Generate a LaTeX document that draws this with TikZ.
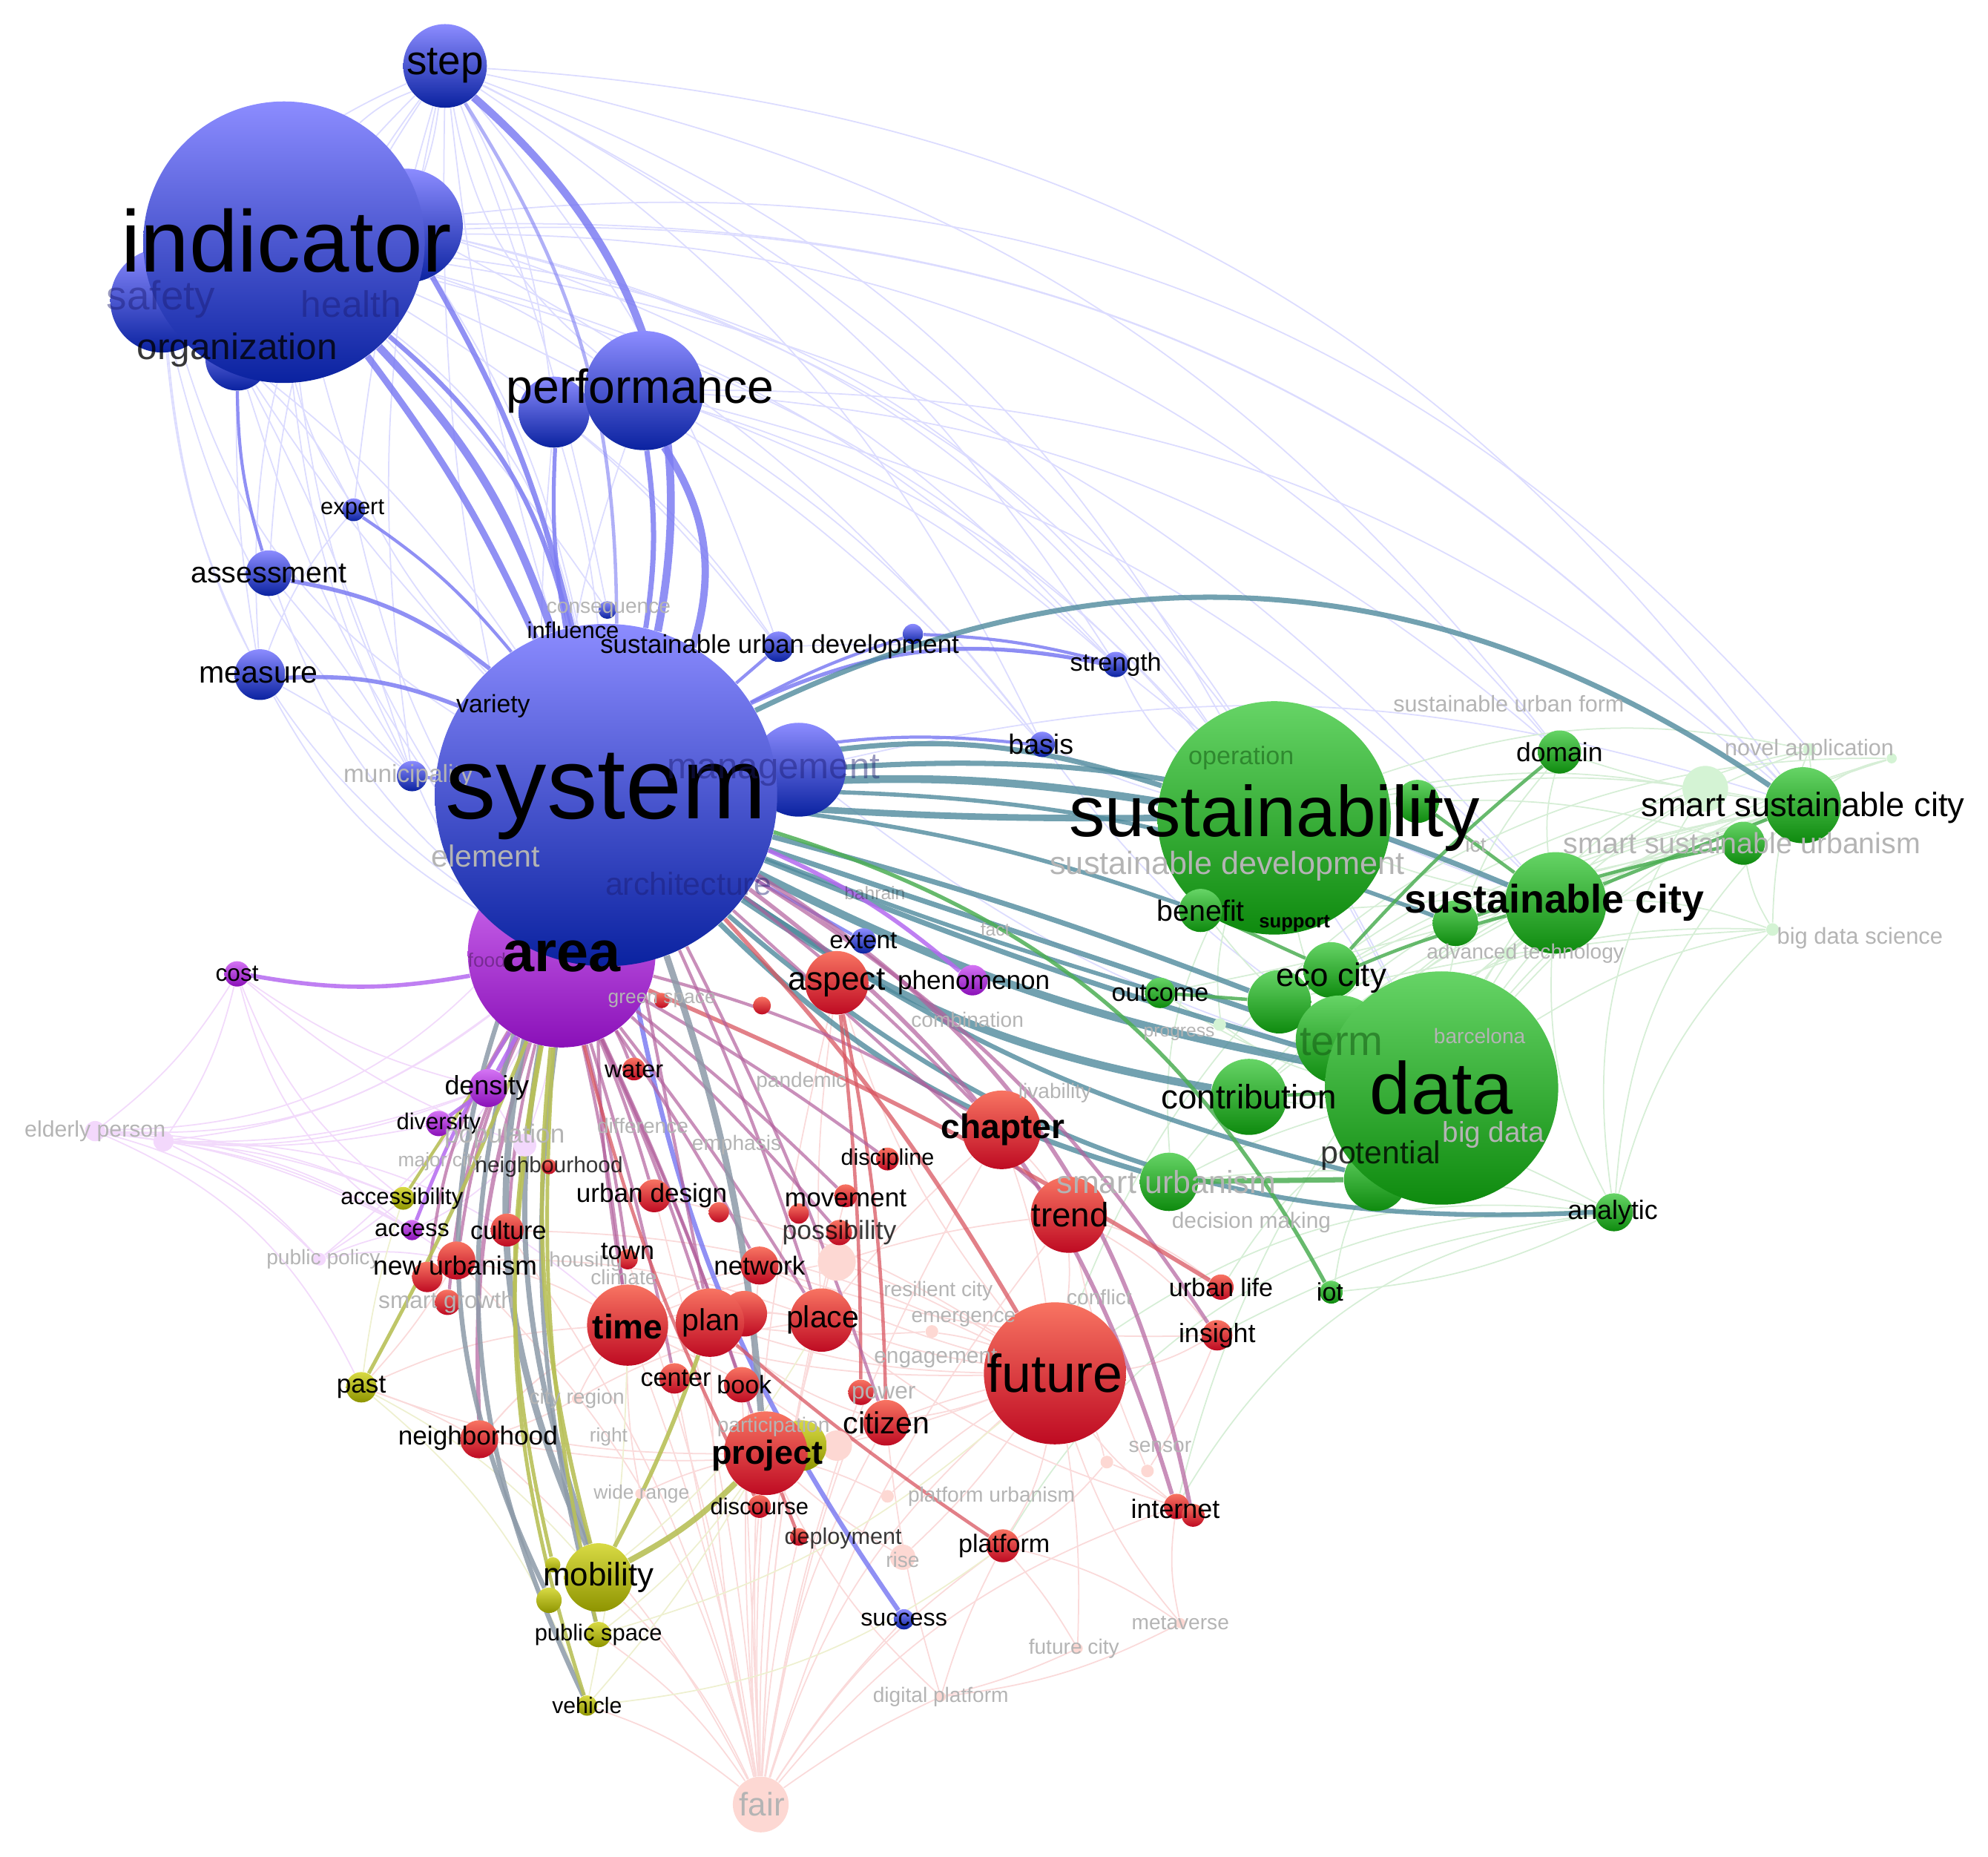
\documentclass[tikz,border=0pt]{standalone}
\usepackage{fontspec}
\setmainfont{Liberation Sans}
\pgfdeclarelayer{bg}\pgfdeclarelayer{fg}\pgfsetlayers{bg,main,fg}
\definecolor{bT}{HTML}{8C8CFF}\definecolor{bB}{HTML}{0A22A0}
\definecolor{pT}{HTML}{D474F4}\definecolor{pB}{HTML}{8A10B8}
\definecolor{gT}{HTML}{66D466}\definecolor{gB}{HTML}{0E8A0E}
\definecolor{rT}{HTML}{F87462}\definecolor{rB}{HTML}{BE0A22}
\definecolor{yT}{HTML}{D8DA44}\definecolor{yB}{HTML}{8E9400}
\definecolor{eB}{HTML}{7C7CF2}\definecolor{eT}{HTML}{4F8A9C}
\definecolor{eG}{HTML}{4CAE54}\definecolor{eR}{HTML}{D85560}
\definecolor{eM}{HTML}{B2609C}\definecolor{eY}{HTML}{B8C058}
\definecolor{eS}{HTML}{8C9AA8}\definecolor{eP}{HTML}{B468F0}
\definecolor{fB}{HTML}{DCDCFF}\definecolor{fG}{HTML}{D6EED6}
\definecolor{fR}{HTML}{FADADA}\definecolor{fP}{HTML}{F2DAFB}
\definecolor{fY}{HTML}{EEF0D0}
\definecolor{lg}{HTML}{B4B4B4}
\definecolor{dB}{HTML}{1A1A70}\definecolor{dG}{HTML}{145A14}
\newcommand\fsz[1]{\fontsize{#1pt}{#1pt}\selectfont}
\newcommand\bub[5]{\node[#1, minimum size=#5*0.034184cm] (#2) at (#3,-#4) {};}
\newcommand\lab[6]{\node[#1, font=\fsz{#6}] (#2) at (#3,-#4) {#5};}
\tikzset{
 bb/.style={circle, inner sep=0pt, top color=bT, bottom color=bB},
 pb/.style={circle, inner sep=0pt, top color=pT, bottom color=pB},
 gb/.style={circle, inner sep=0pt, top color=gT, bottom color=gB},
 rb/.style={circle, inner sep=0pt, top color=rT, bottom color=rB},
 yb/.style={circle, inner sep=0pt, top color=yT, bottom color=yB},
 fr/.style={circle, inner sep=0pt, fill=rT!28},
 fgc/.style={circle, inner sep=0pt, fill=gT!28},
 fpc/.style={circle, inner sep=0pt, fill=pT!28},
 lk/.style={inner sep=0pt, text=black},
 lo/.style={inner sep=0pt, text=black, text opacity=.78},
 lf/.style={inner sep=0pt, text=lg},
 ld/.style={inner sep=0pt, text=black, text opacity=.3},
 ldb/.style={inner sep=0pt, text=dB, text opacity=.45},
 ldg/.style={inner sep=0pt, text=dG, text opacity=.55},
 eb/.style={draw=eB, line width=#1, draw opacity=.85}, eb/.default=1.4pt,
 et/.style={draw=eT, line width=#1, draw opacity=.8}, et/.default=2pt,
 eg/.style={draw=eG, line width=#1, draw opacity=.85}, eg/.default=1.3pt,
 er/.style={draw=eR, line width=#1, draw opacity=.75}, er/.default=1.3pt,
 em/.style={draw=eM, line width=#1, draw opacity=.7}, em/.default=1.2pt,
 ey/.style={draw=eY, line width=#1, draw opacity=.9}, ey/.default=1.5pt,
 es/.style={draw=eS, line width=#1, draw opacity=.85}, es/.default=2pt,
 ep/.style={draw=eP, line width=#1, draw opacity=.85}, ep/.default=1.5pt,
 fbl/.style={draw=fB, line width=.5pt},
 fgr/.style={draw=fG, line width=.5pt},
 frd/.style={draw=fR, line width=.5pt},
 fpu/.style={draw=fP, line width=.5pt},
 fyl/.style={draw=fY, line width=.5pt},
}
\begin{document}
\begin{tikzpicture}[x=0.017092cm, y=0.017092cm]
\useasboundingbox (0,0) rectangle (1568,-1464);
% ---------- faded bubbles ----------
\bub{fr}{fair}{600}{1423}{22}
\bub{fr}{metav}{931}{1280}{4}
\bub{fr}{fcity}{850}{1300}{4}
\bub{fr}{dplat}{742}{1338}{4}
\bub{fr}{sensor}{873}{1153}{5}
\bub{fr}{sensor2}{905}{1160}{5}
\bub{fr}{pfu}{700}{1180}{5}
\bub{fr}{rise}{712}{1228}{10}
\bub{fr}{partic}{660}{1140}{12}
\bub{fr}{paleA}{660}{995}{15}
\bub{fr}{engag}{735}{1050}{5}
\bub{fr}{cityreg}{455}{1103}{4}
\bub{fr}{widerg}{505}{1178}{4}
\bub{fpc}{elderly}{75}{892}{8}
\bub{fpc}{elderly2}{129}{900}{8}
\bub{fpc}{pubpol}{252}{993}{5}
\bub{fpc}{popl}{414}{903}{9}
\bub{fgc}{novbig}{1345}{622}{18}
\bub{fgc}{novel}{1427}{591}{5}
\bub{fgc}{bds}{1398}{733}{5}
\bub{fgc}{bds2}{1492}{598}{4}
\bub{fgc}{progress}{962}{808}{5}
\bub{fgc}{adtech}{1190}{752}{5}
% ---------- blue ----------
\bub{bb}{step}{351}{52}{33}
\bub{bb}{ind2}{320}{178}{45}
\bub{bb}{safety}{128}{237}{41}
\bub{bb}{orgb}{187}{283}{25}
\bub{bb}{indicator}{224}{191}{111}
\bub{bb}{perf2}{437}{325}{28}
\bub{bb}{performance}{508}{308}{47}
\bub{bb}{expert}{279}{402}{9}
\bub{bb}{assessment}{212}{452}{18}
\bub{bb}{measure}{205}{532}{20}
\bub{bb}{municipality}{325}{612}{12}
\bub{bb}{consequence}{479}{481}{7}
\bub{bb}{sud}{614}{510}{12}
\bub{bb}{dot1}{720}{500}{8}
\bub{bb}{strength}{880}{524}{10}
\bub{bb}{basis}{822}{587}{10}
\bub{bb}{management}{630}{607}{37}
% ---------- purple ----------
\bub{pb}{area}{443}{752}{74}
\bub{bb}{system}{478}{627}{135}
\bub{bb}{extent}{681}{742}{10}
\bub{bb}{success}{713}{1277}{8}
\bub{pb}{cost}{187}{768}{10}
\bub{pb}{density}{385}{858}{15}
\bub{pb}{diversity}{346}{886}{10}
\bub{pb}{access}{325}{970}{8}
\bub{pb}{phenom}{767}{773}{12}
% ---------- green ----------
\bub{gb}{sustS}{1118}{632}{17}
\bub{gb}{sustainability}{1005}{645}{92}
\bub{gb}{domain}{1230}{593}{17}
\bub{gb}{ssc}{1422}{635}{30}
\bub{gb}{ssu}{1375}{665}{17}
\bub{gb}{sc2}{1148}{728}{18}
\bub{gb}{sustcity}{1227}{712}{40}
\bub{gb}{benefit}{947}{718}{17}
\bub{gb}{outcome}{915}{783}{12}
\bub{gb}{eco2}{1050}{765}{22}
\bub{gb}{eco}{1009}{790}{25}
\bub{gb}{term}{1057}{820}{35}
\bub{gb}{potcirc}{1085}{930}{25}
\bub{gb}{data}{1137}{858}{92}
\bub{gb}{contribution}{985}{865}{30}
\bub{gb}{smurb}{922}{932}{23}
\bub{gb}{analytic}{1273}{956}{15}
\bub{gb}{iot}{1050}{1019}{9}
% ---------- red ----------
\bub{rb}{aspect}{660}{775}{25}
\bub{rb}{gsdot}{522}{789}{6}
\bub{rb}{rdot1}{601}{793}{7}
\bub{rb}{water}{500}{843}{9}
\bub{rb}{chapter}{790}{891}{31}
\bub{rb}{discipline}{700}{914}{9}
\bub{rb}{nbhd}{433}{920}{6}
\bub{rb}{udesign}{516}{943}{13}
\bub{rb}{rdot2}{567}{956}{8}
\bub{rb}{movement}{667}{943}{9}
\bub{rb}{rdot3}{630}{957}{8}
\bub{rb}{possib}{662}{972}{10}
\bub{rb}{trend}{843}{958}{30}
\bub{rb}{culture}{400}{970}{13}
\bub{rb}{town}{495}{993}{8}
\bub{rb}{network}{599}{998}{15}
\bub{rb}{nu1}{337}{1007}{12}
\bub{rb}{newurb}{360}{994}{15}
\bub{rb}{smgrowth}{353}{1027}{10}
\bub{rb}{urbanlife}{963}{1015}{10}
\bub{rb}{insight}{960}{1053}{12}
\bub{rb}{time}{495}{1045}{32}
\bub{rb}{plan2}{587}{1036}{18}
\bub{rb}{plan}{560}{1043}{27}
\bub{rb}{place}{648}{1041}{25}
\bub{rb}{future}{832}{1083}{56}
\bub{rb}{center}{532}{1087}{12}
\bub{rb}{book}{585}{1092}{14}
\bub{rb}{power}{679}{1098}{10}
\bub{rb}{neighborhood}{378}{1135}{15}
\bub{rb}{citizen}{699}{1122}{18}
\bub{yb}{projy}{632}{1140}{20}
\bub{rb}{project}{604}{1146}{33}
\bub{rb}{discourse}{599}{1188}{9}
\bub{rb}{internet}{928}{1188}{10}
\bub{rb}{internet2}{941}{1195}{9}
\bub{rb}{deploy}{630}{1212}{7}
\bub{rb}{platform}{791}{1219}{13}
% ---------- yellow ----------
\bub{yb}{accessibility}{318}{945}{9}
\bub{yb}{past}{285}{1094}{12}
\bub{yb}{mob2}{436}{1234}{6}
\bub{yb}{mob3}{433}{1262}{10}
\bub{yb}{mobility}{472}{1244}{27}
\bub{yb}{pubspace}{472}{1289}{10}
\bub{yb}{vehicle}{463}{1345}{8}

\begin{pgfonlayer}{bg}
% ---------- faint links ----------
\foreach \a/\b/\c in {step/indicator/-10,step/ind2/5,step/safety/-15,step/orgb/-10,step/assessment/-15,step/measure/-20,step/municipality/-10,step/expert/-5,step/perf2/10,step/sud/10,step/strength/15,step/basis/15,step/sustainability/20,step/ssc/25,step/domain/20,step/system/-5,step/consequence/5,step/area/-8,step/performance/-20,step/data/18,
indicator/sustainability/25,indicator/ssc/25,indicator/domain/25,indicator/sustcity/20,indicator/strength/15,indicator/basis/12,indicator/performance/10,indicator/expert/-10,indicator/municipality/-10,indicator/sud/10,indicator/system/-14,indicator/system/20,indicator/area/-15,indicator/consequence/5,indicator/data/22,indicator/novel/28,
safety/system/-20,safety/measure/-10,safety/area/-25,safety/municipality/-15,safety/system/10,orgb/system/-5,orgb/measure/-5,orgb/area/-10,orgb/municipality/5,orgb/expert/10,
ind2/sustainability/20,ind2/system/10,ind2/strength/15,ind2/data/25,ind2/basis/12,ind2/ssc/24,
performance/sustainability/15,performance/ssc/20,performance/strength/10,performance/basis/10,performance/area/-10,performance/domain/18,performance/sustcity/15,perf2/system/5,perf2/area/-5,perf2/sud/8,
assessment/area/-15,measure/area/-15,assessment/municipality/5,measure/municipality/5,municipality/area/-10,expert/area/-10,expert/measure/-10,
sud/strength/5,strength/sustainability/-10,strength/sustcity/-10,basis/sustainability/-5,basis/data/-10,management/ssc/15,management/data/-10}
 \draw[fbl] (\a) to[bend left=\c] (\b);
\foreach \a/\b/\c in {ssc/data/-20,ssc/sustainability/-10,ssc/sustcity/-5,ssc/analytic/-20,ssc/eco/-10,ssc/term/-15,ssc/smurb/-20,novel/data/-25,novel/sustcity/-10,novel/ssc/5,novel/sustainability/-15,novel/bds/-10,bds/data/-10,bds/sustcity/-10,bds/ssu/10,bds/analytic/-15,ssu/data/-15,ssu/sustainability/-10,ssu/term/-15,ssu/contribution/-15,domain/data/-15,domain/sustcity/-10,domain/ssc/-5,sustainability/data/-20,sustainability/sustcity/-5,sustcity/data/-10,sustcity/analytic/-15,analytic/contribution/-10,analytic/internet/-25,analytic/platform/-30,analytic/future/-20,analytic/smurb/-10,data/iot/-10,data/outcome/10,data/benefit/10,data/smurb/-5,sustainability/smurb/-15,ssc/benefit/10,ssc/outcome/5,ssc/contribution/-10,bds/term/-15,bds/eco/-5,ssu/eco/-10,analytic/iot/10,analytic/insight/-10,data/urbanlife/-10,bds2/future/-35,bds2/data/-15,bds2/ssc/-10,novbig/data/-15,novbig/sustainability/-10,novbig/eco/-10,adtech/data/-10,adtech/ssc/10,progress/data/-10,progress/sustainability/10,bds2/internet/-30,novbig/analytic/-20}
 \draw[fgr] (\a) to[bend left=\c] (\b);
\foreach \a/\b/\c in {fair/time/-5,fair/plan/5,fair/project/3,fair/place/8,fair/network/5,fair/citizen/10,fair/future/15,fair/discourse/5,fair/platform/10,fair/neighborhood/-10,fair/center/0,fair/book/0,fair/udesign/-5,fair/deploy/5,fair/mobility/-10,fair/pubspace/-10,fair/vehicle/-10,fair/newurb/-15,fair/culture/-10,fair/internet/15,fair/trend/10,fair/chapter/10,fair/town/-5,fair/success/5,fair/power/5,fair/dplat/5,fair/aspect/8,fair/possib/6,fair/movement/6,
future/place/5,future/citizen/5,future/platform/10,future/internet/-10,future/insight/-10,future/network/5,future/trend/-5,future/metav/-10,future/fcity/5,metav/internet/10,metav/platform/-10,metav/dplat/10,fcity/platform/-5,fcity/dplat/5,dplat/platform/5,dplat/project/10,dplat/citizen/5,sensor/future/-5,sensor/internet/10,sensor/platform/10,sensor2/insight/-5,sensor2/trend/5,
time/place/10,time/network/10,plan/place/10,plan/citizen/-10,time/neighborhood/-10,newurb/time/10,neighborhood/time/10,cityreg/time/5,cityreg/neighborhood/5,cityreg/place/10,past/time/10,past/neighborhood/5,past/newurb/-5,past/project/-10,widerg/project/5,widerg/time/5,
trend/urbanlife/10,trend/insight/10,chapter/future/5,chapter/trend/5,chapter/place/-5,aspect/future/-10,aspect/place/-5,paleA/future/5,paleA/time/-5,paleA/trend/5,engag/future/5,engag/plan/5,rise/future/-5,rise/project/5,pfu/future/5,pfu/project/-5,partic/future/5,partic/time/-5,
neighborhood/future/-15,newurb/place/10,culture/future/12,udesign/future/10,time/future/-8,plan/future/-8,network/insight/-10,place/internet/-10}
 \draw[frd] (\a) to[bend left=\c] (\b);
\foreach \a/\b/\c in {elderly/area/-20,elderly/density/-15,elderly/diversity/-10,elderly/access/10,elderly/accessibility/10,elderly/cost/-10,elderly/pubpol/15,elderly/newurb/15,elderly/past/20,elderly2/area/-15,elderly2/density/-10,elderly2/access/10,elderly2/accessibility/8,elderly2/pubpol/10,elderly2/cost/-10,elderly/system/-25,elderly2/time/20,pubpol/area/-15,pubpol/access/5,pubpol/density/-5,pubpol/newurb/10,cost/density/-10,cost/access/-20,cost/popl/-10,popl/area/-5,popl/access/10,popl/density/5,cost/accessibility/-15}
 \draw[fpu] (\a) to[bend left=\c] (\b);
\foreach \a/\b/\c in {past/mobility/10,past/vehicle/15,vehicle/project/-5,pubspace/project/-8,vehicle/time/-5,past/accessibility/5,mobility/place/-10,vehicle/platform/-15,pubspace/future/-12}
 \draw[fyl] (\a) to[bend left=\c] (\b);
% ---------- blue links ----------
\draw[eb=3pt] (system) to[bend right=30] (step);
\draw[eb=1.3pt, draw opacity=.6] (system) to[bend right=16] (step);
\draw[eb=2.5pt] (indicator) to[bend left=6] (system);
\draw[eb=3pt] (indicator) to[bend left=12] (system);
\draw[eb=1.8pt] (indicator) to[bend left=18] (system);
\draw[eb=2pt] (ind2) to[bend left=8] (system);
\draw[eb=2.8pt] (performance) to[bend left=25] (system);
\draw[eb=2pt] (performance) to[bend left=8] (system);
\draw[eb=1.5pt] (perf2) to[bend right=6] (system);
\draw[eb=1.6pt] (assessment) to[bend left=14] (system);
\draw[eb=1.6pt] (measure) to[bend left=12] (system);
\draw[eb=1.2pt] (expert) to[bend left=8] (system);
\draw[eb=1.2pt] (orgb) to[bend right=8] (assessment);
\draw[eb=1.2pt] (municipality) -- (system);
\draw[eb=1.2pt] (sud) -- (system);
\draw[eb=1.5pt] (system) to[bend left=18] (strength);
\draw[eb=1.2pt] (system) to[bend left=5] (dot1);
\draw[eb=1.2pt] (dot1) to[bend left=6] (strength);
\draw[eb=1.2pt] (system) to[bend left=8] (basis);
\draw[eb=1.2pt] (system) -- (extent);
\draw[eb=1.8pt] (system) to[bend right=12] (success);
% ---------- system to green ----------
\draw[et=2pt] (system) to[bend left=30] (ssc);
\draw[et=3pt] (system) to[bend left=6] (sustainability);
\draw[et=2pt] (system) to[bend left=14] (sustainability);
\draw[et=2.5pt] (system) to[bend right=2] (sustainability);
\draw[et=2pt] (system) to[bend left=14] (sustcity);
\draw[et=1.6pt] (system) to[bend left=10] (sc2);
\draw[et=3pt] (system) to[bend right=8] (data);
\draw[et=2pt] (system) to[bend right=3] (data);
\draw[et=3pt] (system) to[bend right=12] (contribution);
\draw[et=2pt] (system) to[bend left=3] (eco);
\draw[et=1.6pt] (system) to[bend right=2] (outcome);
\draw[et=1.6pt] (system) to[bend left=6] (benefit);
\draw[et=2pt] (system) -- (term);
\draw[et=1.8pt] (system) to[bend right=22] (analytic);
\draw[et=2pt] (system) to[bend right=14] (smurb);
\draw[et=1.8pt] (system) to[bend right=10] (potcirc);
\draw[eg=1.5pt] (system) to[bend left=22] (iot);
% ---------- green ----------
\draw[eg] (domain) to[bend right=4] (eco2);
\draw[eg] (sustcity) -- (ssc);
\draw[eg] (sc2) to[bend left=4] (ssu);
\draw[eg] (eco) to[bend left=5] (sustcity);
\draw[eg] (sustS) -- (sustcity);
\draw[eg] (outcome) -- (eco);
\draw[eg=2pt] (smurb) -- (potcirc);
\draw[eg] (benefit) -- (eco2);
\draw[eg] (contribution) -- (data);
% ---------- red / mauve ----------
\draw[em=1.6pt] (system) to[bend left=18] (internet);
\draw[em=1.6pt] (system) to[bend left=23] (internet2);
\draw[em=1.4pt] (system) to[bend left=12] (insight);
\draw[er=1.6pt] (system) to[bend left=6] (future);
\draw[er=1.6pt] (area) to[bend left=4] (urbanlife);
\draw[em] (system) to[bend left=4] (chapter);
\draw[em] (area) to[bend left=8] (chapter);
\draw[em] (system) -- (trend);
\draw[er] (aspect) to[bend left=3] (power);
\draw[er] (aspect) to[bend left=5] (citizen);
\foreach \t in {time,plan,project,network,place,udesign,town,center,book,movement,possib,discipline,water}
 \draw[em] (area) to[bend left=3] (\t);
\draw[em=1.6pt] (area) to[bend right=10] (neighborhood);
\draw[em] (area) to[bend right=8] (newurb);
\draw[em] (area) to[bend right=5] (culture);
\draw[em] (area) to[bend right=12] (nu1);
\draw[em] (area) to[bend right=10] (smgrowth);
\draw[em] (system) to[bend right=5] (time);
\draw[em] (system) -- (plan);
\draw[em] (system) to[bend left=3] (place);
\draw[em] (system) to[bend left=4] (citizen);
\draw[er] (plan) to[bend right=3] (platform);
\draw[er] (project) -- (deploy);
\draw[er] (area) to[bend right=6] (discourse);
% ---------- olive / grey ----------
\draw[es=2.5pt] (system) to[bend right=20] (mobility);
\draw[es=2pt] (system) to[bend right=16] (mobility);
\draw[es=1.8pt] (system) to[bend right=24] (mob3);
\draw[es=1.8pt] (system) to[bend right=22] (vehicle);
\draw[es=2.5pt] (system) to[bend left=7] (project);
\draw[es=1.6pt] (system) to[bend right=12] (pubspace);
\draw[ey=1.6pt] (area) to[bend right=10] (mobility);
\draw[ey=1.2pt] (accessibility) -- (area);
\draw[ey=1.4pt] (past) to[bend right=3] (area);
\draw[ey=2.2pt] (mobility) to[bend right=8] (project);
\draw[ey=1.6pt] (mobility) to[bend right=4] (plan);
\draw[ey=1.4pt] (mob2) to[bend left=12] (area);
\draw[ey=1.4pt] (vehicle) to[bend left=14] (area);
\draw[ey=1.4pt] (pubspace) to[bend left=8] (area);
% ---------- purple ----------
\draw[ep=1.6pt] (area) to[bend left=10] (cost);
\draw[ep=1.6pt] (area) -- (density);
\draw[ep=1.4pt] (density) -- (diversity);
\draw[ep=1.4pt] (area) to[bend right=5] (access);
\draw[ep=1.6pt] (system) to[bend left=8] (phenom);
\end{pgfonlayer}

\begin{pgfonlayer}{fg}
% blue labels
\lab{lk}{tstep}{351}{52}{step}{15.6}
\lab{lk}{tindicator}{226}{190}{indicator}{33.5}
\lab{ldb}{tsafety}{127}{236}{safety}{15.6}
\lab{ldb}{thealth}{277}{240}{health}{14.1}
\lab{lo}{torg}{187}{276}{organization}{14.1}
\lab{lk}{tperf}{505}{308}{performance}{18.3}
\lab{lk}{texpert}{278}{402}{expert}{8.8}
\lab{lk}{tassess}{212}{452}{assessment}{11.2}
\lab{lk}{tmeasure}{204}{532}{measure}{11.7}
\lab{lf}{tmunic}{322}{612}{municipality}{9.5}
\lab{lf}{tconseq}{480}{481}{consequence}{8}
\lab{lk}{tinfl}{452}{497}{influence}{8.8}
\lab{lk}{tsud}{615}{510}{sustainable urban development}{9.9}
\lab{lk}{tstrength}{880}{524}{strength}{9.7}
\lab{lk}{tbasis}{821}{587}{basis}{10.7}
\lab{lk}{tvariety}{389}{557}{variety}{9.6}
\lab{lk}{tsystem}{478}{628}{system}{38.9}
\lab{ldb}{tmanag}{610}{608}{management}{14}
\lab{lf}{telement}{383}{675}{element}{11.7}
\lab{ldb}{tarch}{543}{697}{architecture}{12.2}
\lab{lk}{textent}{681}{742}{extent}{9.5}
\lab{lk}{tsuccess}{713}{1277}{success}{9.2}
% purple labels
\lab{lk}{tarea}{443}{754}{\textbf{area}}{22}
\lab{ld}{tfood}{384}{757}{food}{7.5}
\lab{lk}{tcost}{187}{768}{cost}{9}
\lab{lk}{tdensity}{384}{858}{density}{10.2}
\lab{lk}{tdiversity}{346}{886}{diversity}{8.8}
\lab{lk}{taccess}{325}{970}{access}{9.2}
\lab{lf}{telderly}{75}{892}{elderly person}{8.6}
\lab{lf}{tpubpol}{255}{993}{public policy}{8}
\lab{lf}{tpopl}{398}{896}{population}{10}
\lab{lf}{tmajor}{347}{916}{major city}{7.5}
\lab{lk}{tphenom}{768}{775}{phenomenon}{10}
% green labels
\lab{lk}{tsust}{1005}{645}{sustainability}{27.5}
\lab{ldg}{toper}{979}{598}{operation}{9.7}
\lab{lf}{tsustdev}{968}{683}{sustainable development}{12.3}
\lab{lf}{tict}{1164}{666}{ict}{8}
\lab{lk}{tdomain}{1230}{593}{domain}{10.1}
\lab{lf}{tnovel}{1427}{591}{novel application}{8.7}
\lab{lk}{tssc}{1422}{637}{smart sustainable city}{12.9}
\lab{lf}{tssu}{1374}{665}{smart sustainable urbanism}{11.2}
\lab{lf}{tsuf}{1190}{555}{sustainable urban form}{8.7}
\lab{lk}{tsustcity}{1226}{712}{\textbf{sustainable city}}{15.3}
\lab{lk}{tbenefit}{947}{718}{benefit}{11.2}
\lab{lk}{tsupport}{1021}{728}{\textbf{support}}{7.3}
\lab{lf}{tadtech}{1203}{752}{advanced technology}{8}
\lab{lf}{tbds}{1467}{740}{big data science}{8.8}
\lab{lk}{toutcome}{915}{783}{outcome}{9.7}
\lab{lk}{teco}{1050}{771}{eco city}{12.5}
\lab{lf}{tprogress}{930}{815}{progress}{7}
\lab{ldg}{tterm}{1058}{822}{term}{16}
\lab{lk}{tdata}{1137}{858}{data}{28.2}
\lab{lf}{tbarc}{1167}{817}{barcelona}{8}
\lab{lf}{tbigdata}{1178}{895}{big data}{11}
\lab{lo}{tpotential}{1089}{911}{potential}{12.2}
\lab{lk}{tcontrib}{985}{865}{contribution}{13}
\lab{lf}{tsmurb}{920}{932}{smart urbanism}{12.2}
\lab{lf}{tdecision}{987}{964}{decision making}{8.5}
\lab{lk}{tanalytic}{1272}{956}{analytic}{10.2}
\lab{lk}{tiot}{1049}{1019}{iot}{9.7}
% red labels
\lab{lk}{taspect}{660}{775}{aspect}{12.6}
\lab{ld}{tbahrain}{690}{704}{bahrain}{7}
\lab{lf}{tfact}{785}{733}{fact}{7}
\lab{lf}{tcomb}{763}{804}{combination}{8}
\lab{lf}{tgreen}{522}{789}{green space}{7.5}
\lab{lk}{twater}{500}{844}{water}{9.2}
\lab{lf}{tpandemic}{632}{853}{pandemic}{8}
\lab{lf}{tdiff}{507}{888}{difference}{8}
\lab{lf}{temph}{581}{903}{emphasis}{8}
\lab{lf}{tliv}{832}{862}{livability}{8}
\lab{lk}{tchapter}{791}{891}{\textbf{chapter}}{13.1}
\lab{lk}{tdiscipline}{700}{914}{discipline}{8.7}
\lab{lo}{tnbhd}{433}{920}{neighbourhood}{8.5}
\lab{lk}{tudesign}{514}{943}{urban design}{10}
\lab{lk}{tmovement}{667}{945}{movement}{10}
\lab{lo}{tpossib}{662}{972}{possibility}{10.1}
\lab{lk}{ttrend}{844}{958}{trend}{13}
\lab{lk}{tculture}{401}{970}{culture}{9.7}
\lab{lf}{thousing}{462}{995}{housing}{8}
\lab{lk}{ttown}{495}{987}{town}{9.7}
\lab{lf}{tclimate}{492}{1007}{climate}{8}
\lab{lk}{tnetwork}{599}{998}{network}{10}
\lab{lk}{tnewurb}{359}{998}{new urbanism}{10.1}
\lab{lf}{tsmgrowth}{352}{1027}{smart growth}{9}
\lab{lf}{tresil}{740}{1018}{resilient city}{8}
\lab{lf}{tconflict}{867}{1023}{conflict}{8}
\lab{lf}{temerg}{760}{1040}{emergence}{8}
\lab{lk}{turbanlife}{963}{1015}{urban life}{9.7}
\lab{lk}{tinsight}{960}{1053}{insight}{10.2}
\lab{lk}{ttime}{495}{1046}{\textbf{time}}{13.1}
\lab{lk}{tplan}{561}{1043}{plan}{11.7}
\lab{lk}{tplace}{649}{1041}{place}{11.7}
\lab{lf}{tengag}{738}{1071}{engagement}{8.5}
\lab{lk}{tfuture}{832}{1083}{future}{20.4}
\lab{lk}{tcenter}{533}{1087}{center}{9.7}
\lab{lk}{tbook}{587}{1092}{book}{9.7}
\lab{lf}{tpower}{697}{1100}{power}{9}
\lab{lk}{tpast}{285}{1094}{past}{10}
\lab{lf}{tcityreg}{455}{1103}{city region}{8}
\lab{lf}{tright}{480}{1133}{right}{7.5}
\lab{lk}{tneighborhood}{377}{1134}{neighborhood}{10}
\lab{lk}{tcitizen}{699}{1122}{citizen}{11.7}
\lab{lf}{tpartic}{610}{1125}{participation}{8}
\lab{lk}{tproject}{605}{1148}{\textbf{project}}{12.8}
\lab{lf}{tsensor}{915}{1141}{sensor}{8}
\lab{lf}{twide}{506}{1178}{wide range}{7.5}
\lab{lk}{tdiscourse}{599}{1188}{discourse}{8.8}
\lab{lf}{tpfu}{782}{1180}{platform urbanism}{8}
\lab{lk}{tinternet}{927}{1190}{internet}{10.2}
\lab{lo}{tdeploy}{665}{1213}{deployment}{8.7}
\lab{lf}{trise}{712}{1230}{rise}{8}
\lab{lk}{tplatform}{792}{1219}{platform}{9.7}
\lab{lf}{tmetav}{931}{1280}{metaverse}{8}
\lab{lf}{tfcity}{847}{1300}{future city}{8}
\lab{lf}{tdplat}{742}{1338}{digital platform}{8}
\lab{lf}{tfair}{601}{1423}{fair}{12.5}
% yellow labels
\lab{lk}{taccessib}{317}{945}{accessibility}{8.8}
\lab{lk}{tmobility}{472}{1244}{mobility}{12.5}
\lab{lk}{tpubspace}{472}{1289}{public space}{8.8}
\lab{lk}{tvehicle}{463}{1345}{vehicle}{8.6}
\end{pgfonlayer}
\end{tikzpicture}
\end{document}
